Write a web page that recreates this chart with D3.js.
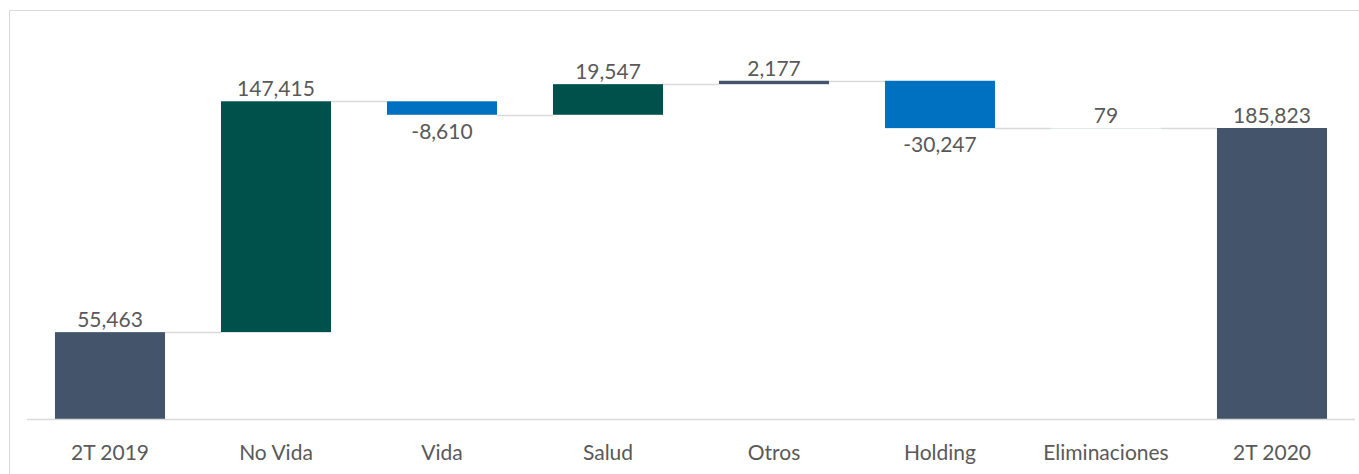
<!DOCTYPE html>
<html>
<head>
<meta charset="utf-8">
<script src="https://cdn.jsdelivr.net/npm/d3@7"></script>
<style>
  body { margin: 0; background: #fff; }
  text { font-family: Lato, "Open Sans", sans-serif; fill: #595959; }
</style>
</head>
<body>
<script>
var categories = ["2T 2019", "No Vida", "Vida", "Salud", "Otros", "Holding", "Eliminaciones", "2T 2020"];
var values     = [55463, 147415, -8610, 19547, 2177, -30247, 79, 185823];
var kinds      = ["total", "up", "down", "up", "other", "down", "up", "total"];

var colors = { total: "#44546a", up: "#00504b", down: "#0070c0", other: "#44546a" };

var w = 1359, h = 474;

// running totals -> start/end of each step
var steps = [];
var run = 0;
values.forEach(function (v, i) {
  var s, e;
  if (kinds[i] === "total") { s = 0; e = v; run = v; }
  else { s = run; e = run + v; run = e; }
  steps.push({ name: categories[i], value: v, kind: kinds[i], start: s, end: e });
});

var svg = d3.select("body").append("svg")
  .attr("width", w)
  .attr("height", h);

// chart frame
svg.append("path")
  .attr("d", "M9.5," + h + "V10.5H" + w)
  .attr("fill", "none")
  .attr("stroke", "#d9d9d9")
  .attr("stroke-width", 1);

var xScale = d3.scaleBand()
  .domain(categories)
  .range([27, 1355])
  .paddingInner(0.337)
  .paddingOuter(0.337 / 2);

var yScale = d3.scaleLinear()
  .domain([0, 250000])
  .range([419, 27.5]);

// connectors
svg.selectAll("line.conn")
  .data(steps.slice(0, -1))
  .enter()
  .append("line")
  .attr("class", "conn")
  .attr("x1", function (d) { return xScale(d.name) + xScale.bandwidth(); })
  .attr("x2", function (d, i) { return xScale(categories[i + 1]); })
  .attr("y1", function (d) { return Math.round(yScale(d.end)) + 0.5; })
  .attr("y2", function (d) { return Math.round(yScale(d.end)) + 0.5; })
  .attr("stroke", "#d9d9d9")
  .attr("stroke-width", 1.5);

// bars
svg.selectAll("rect.bar")
  .data(steps)
  .enter()
  .append("rect")
  .attr("class", "bar")
  .attr("x", function (d) { return xScale(d.name); })
  .attr("y", function (d) { return yScale(Math.max(d.start, d.end)); })
  .attr("width", xScale.bandwidth())
  .attr("height", function (d) { return Math.abs(yScale(d.start) - yScale(d.end)); })
  .attr("fill", function (d) { return colors[d.kind]; });

// x axis
var xAxis = d3.axisBottom(xScale).tickSize(0).tickPadding(0);
var gx = svg.append("g")
  .attr("transform", "translate(0,419)")
  .call(xAxis);
gx.select(".domain")
  .attr("d", "M27,0.5H1355")
  .attr("stroke", "#d9d9d9")
  .attr("stroke-width", 1.5);
gx.selectAll(".tick text")
  .attr("y", 41)
  .attr("dy", null)
  .style("font-size", "21px")
  .style("font-family", "Lato, sans-serif")
  .attr("fill", "#595959");

// value labels
var fmt = d3.formatLocale({ decimal: ".", thousands: ",", grouping: [3], currency: ["", ""], minus: "-" }).format(",");
svg.selectAll("text.val")
  .data(steps)
  .enter()
  .append("text")
  .attr("class", "val")
  .attr("x", function (d) { return xScale(d.name) + xScale.bandwidth() / 2; })
  .attr("y", function (d) {
    if (d.value < 0) return yScale(d.end) + 24;
    return yScale(d.end) - 5;
  })
  .attr("text-anchor", "middle")
  .style("font-size", "21px")
  .text(function (d) { return fmt(d.value); });
</script>
</body>
</html>
